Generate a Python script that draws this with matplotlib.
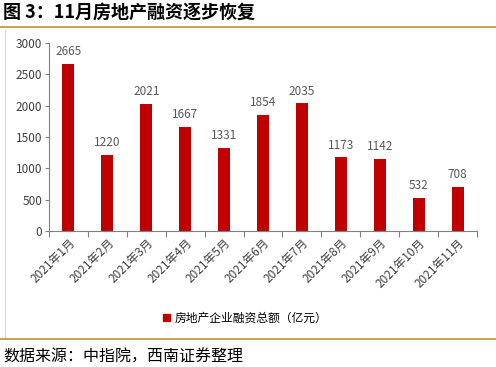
import matplotlib
matplotlib.use("Agg")
from matplotlib import pyplot as plt
from matplotlib.lines import Line2D
from matplotlib.patches import Patch

months = ["2021年1月", "2021年2月", "2021年3月", "2021年4月", "2021年5月", "2021年6月",
          "2021年7月", "2021年8月", "2021年9月", "2021年10月", "2021年11月"]
financing = [2665, 1220, 2021, 1667, 1331, 1854, 2035, 1173, 1142, 532, 708]
yticks = [0, 500, 1000, 1500, 2000, 2500, 3000]

plt.rcParams['font.family'] = ['Noto Sans CJK SC', 'DejaVu Sans']

fig = plt.figure(figsize=(4.96, 3.67), dpi=100)
W, H = 496, 367

# title and gold rules
fig.text(3 / W, 1 - 12 / H, "图 3：11月房地产融资逐步恢复", fontsize=13, fontweight='bold',
         va='center', ha='left', color='black')
fig.add_artist(Line2D([0, 1], [1 - 27 / H] * 2, color='#C9A45C', lw=1.5))
fig.add_artist(Line2D([0, 1], [1 - 339 / H] * 2, color='#C9A45C', lw=1.5))
fig.add_artist(Line2D([5 / W] * 2, [1 - 30 / H, 1 - 337 / H], color='#D9D9D9', lw=0.8))
fig.text(3 / W, 1 - 357 / H, "数据来源：中指院，西南证券整理", fontsize=11.5, style='italic',
         va='center', ha='left', color='black')

ax = fig.add_axes([49 / W, 1 - 231 / H, (477 - 49) / W, (231 - 43) / H])
x = list(range(len(months)))
bars = ax.bar(x, financing, width=0.31, color='#C00000', zorder=2)
for xi, v in zip(x, financing):
    ax.text(xi, v + 95, str(v), ha='center', va='bottom', fontsize=8.5, color='#595959')

ax.set_xlim(-0.5, len(months) - 0.5)
ax.set_ylim(0, 3000)
ax.set_yticks(yticks)
ax.set_yticklabels([str(t) for t in yticks], fontsize=8.5, color='#404040')
ax.set_xticks([i - 0.5 for i in range(len(months) + 1)])
ax.set_xticklabels([])
ax.set_xticks(x, minor=True)
ax.set_xticklabels(months, minor=True, rotation=45, ha='right', rotation_mode='anchor',
                   fontsize=8.5, color='#404040')
ax.tick_params(axis='x', which='major', length=4, color='#808080', direction='out')
ax.tick_params(axis='x', which='minor', length=0, pad=4)
ax.tick_params(axis='y', length=3, color='#808080', pad=2)
for s in ['top', 'right']:
    ax.spines[s].set_visible(False)
ax.spines['left'].set_color('#808080')
ax.spines['bottom'].set_color('#808080')

fig.legend(handles=[Patch(color='#C00000', label='房地产企业融资总额（亿元）')],
           loc='center', bbox_to_anchor=(245 / W, 1 - 318 / H), frameon=False,
           fontsize=8.5, handlelength=0.6, handleheight=0.6, handletextpad=0.4)

fig.savefig("out.png", dpi=100)
